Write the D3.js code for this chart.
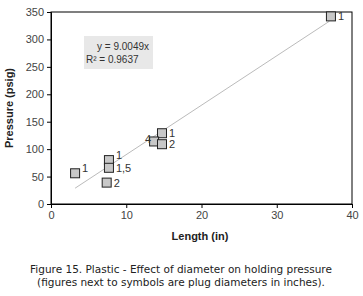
<!DOCTYPE html>
<html><head><meta charset="utf-8">
<script src="https://cdn.jsdelivr.net/npm/d3@7"></script>
<style>body{margin:0;background:#fff;}svg{display:block;}</style>
</head><body>
<svg id="c" width="363" height="296"></svg>
<script>
const lengths = [37.2, 3.2, 7.7, 7.7, 7.4, 14.75, 13.7, 14.75];
const pressures = [342, 56, 80, 66, 39, 129, 114, 109];
const diameters = ["1", "1", "1", "1,5", "2", "1", "4", "2"];
const xTicks = [0, 10, 20, 30, 40];
const yTicks = [0, 50, 100, 150, 200, 250, 300, 350];
const slope = 9.0049;
const trendRange = [3.2, 37];
const eqLines = ["y = 9.0049x", "R² = 0.9637"];
const caption = ["Figure 15. Plastic - Effect of diameter on holding pressure",
                 "(figures next to symbols are plug diameters in inches)."];

const svg = d3.select("#c");
const L = 51, R = 352, T = 12, B = 204;
const x = d3.scaleLinear().domain([0, 40]).range([L, R]);
const y = d3.scaleLinear().domain([0, 350]).range([B, T]);
const tickFont = "Liberation Sans, Arial, sans-serif";

// frame
svg.append("rect").attr("x", L).attr("y", T).attr("width", R - L).attr("height", B - T)
  .attr("fill", "none").attr("stroke", "#000").attr("stroke-width", 1);

const xa = svg.append("g").attr("transform", `translate(0,${B})`)
  .call(d3.axisBottom(x).tickValues(xTicks).tickSize(4).tickPadding(3));
const ya = svg.append("g").attr("transform", `translate(${L},0)`)
  .call(d3.axisLeft(y).tickValues(yTicks).tickSize(4).tickPadding(3));
[xa, ya].forEach(a => {
  a.select(".domain").attr("stroke", "#000");
  a.selectAll(".tick line").attr("stroke", "#000");
  a.selectAll("text").attr("font-family", tickFont).attr("font-size", 11).attr("fill", "#444");
});

// trendline
svg.append("line")
  .attr("x1", x(trendRange[0])).attr("y1", y(slope * trendRange[0]))
  .attr("x2", x(trendRange[1])).attr("y2", y(slope * trendRange[1]))
  .attr("stroke", "#bbbbbb").attr("stroke-width", 1);

// equation box
svg.append("rect").attr("x", 84).attr("y", 36).attr("width", 69).attr("height", 33).attr("fill", "#e8e8e8");
svg.append("text").attr("x", 149).attr("y", 50).attr("text-anchor", "end")
  .attr("font-family", tickFont).attr("font-size", 10).attr("fill", "#333").text(eqLines[0]);
svg.append("text").attr("x", 86).attr("y", 63)
  .attr("font-family", tickFont).attr("font-size", 10).attr("fill", "#333").text(eqLines[1]);

// points
const s = 9;
const data = lengths.map((v, i) => ({x: v, y: pressures[i], d: diameters[i]}));
svg.selectAll("rect.pt").data(data).join("rect").attr("class", "pt")
  .attr("x", d => x(d.x) - s / 2).attr("y", d => y(d.y) - s / 2)
  .attr("width", s).attr("height", s)
  .attr("fill", "#c8c8c8").attr("stroke", "#222").attr("stroke-width", 1);

svg.selectAll("text.lab").data(data).join("text").attr("class", "lab")
  .attr("x", d => d.d === "4" ? x(d.x) - 3 : x(d.x) + 7)
  .attr("y", d => d.d === "4" ? y(d.y) + 2 : (d.d === "1" && d.x < 8 ? y(d.y) - 1 : y(d.y) + 4))
  .attr("text-anchor", d => d.d === "4" ? "end" : "start")
  .attr("font-family", tickFont).attr("font-size", 11).attr("fill", "#333")
  .text(d => d.d);

// axis titles
svg.append("text").attr("x", 200).attr("y", 240).attr("text-anchor", "middle")
  .attr("font-family", tickFont).attr("font-size", 11).attr("font-weight", "bold").attr("fill", "#222")
  .text("Length (in)");
svg.append("text").attr("transform", `translate(13,${(T + B) / 2}) rotate(-90)`).attr("text-anchor", "middle")
  .attr("font-family", tickFont).attr("font-size", 11).attr("font-weight", "bold").attr("fill", "#222")
  .text("Pressure (psig)");

// caption
caption.forEach((c, i) => {
  svg.append("text").attr("x", 181).attr("y", 273 + i * 13).attr("text-anchor", "middle")
    .attr("font-family", "DejaVu Sans, sans-serif").attr("font-size", 10.5).attr("fill", "#222")
    .text(c);
});
</script>
</body></html>
